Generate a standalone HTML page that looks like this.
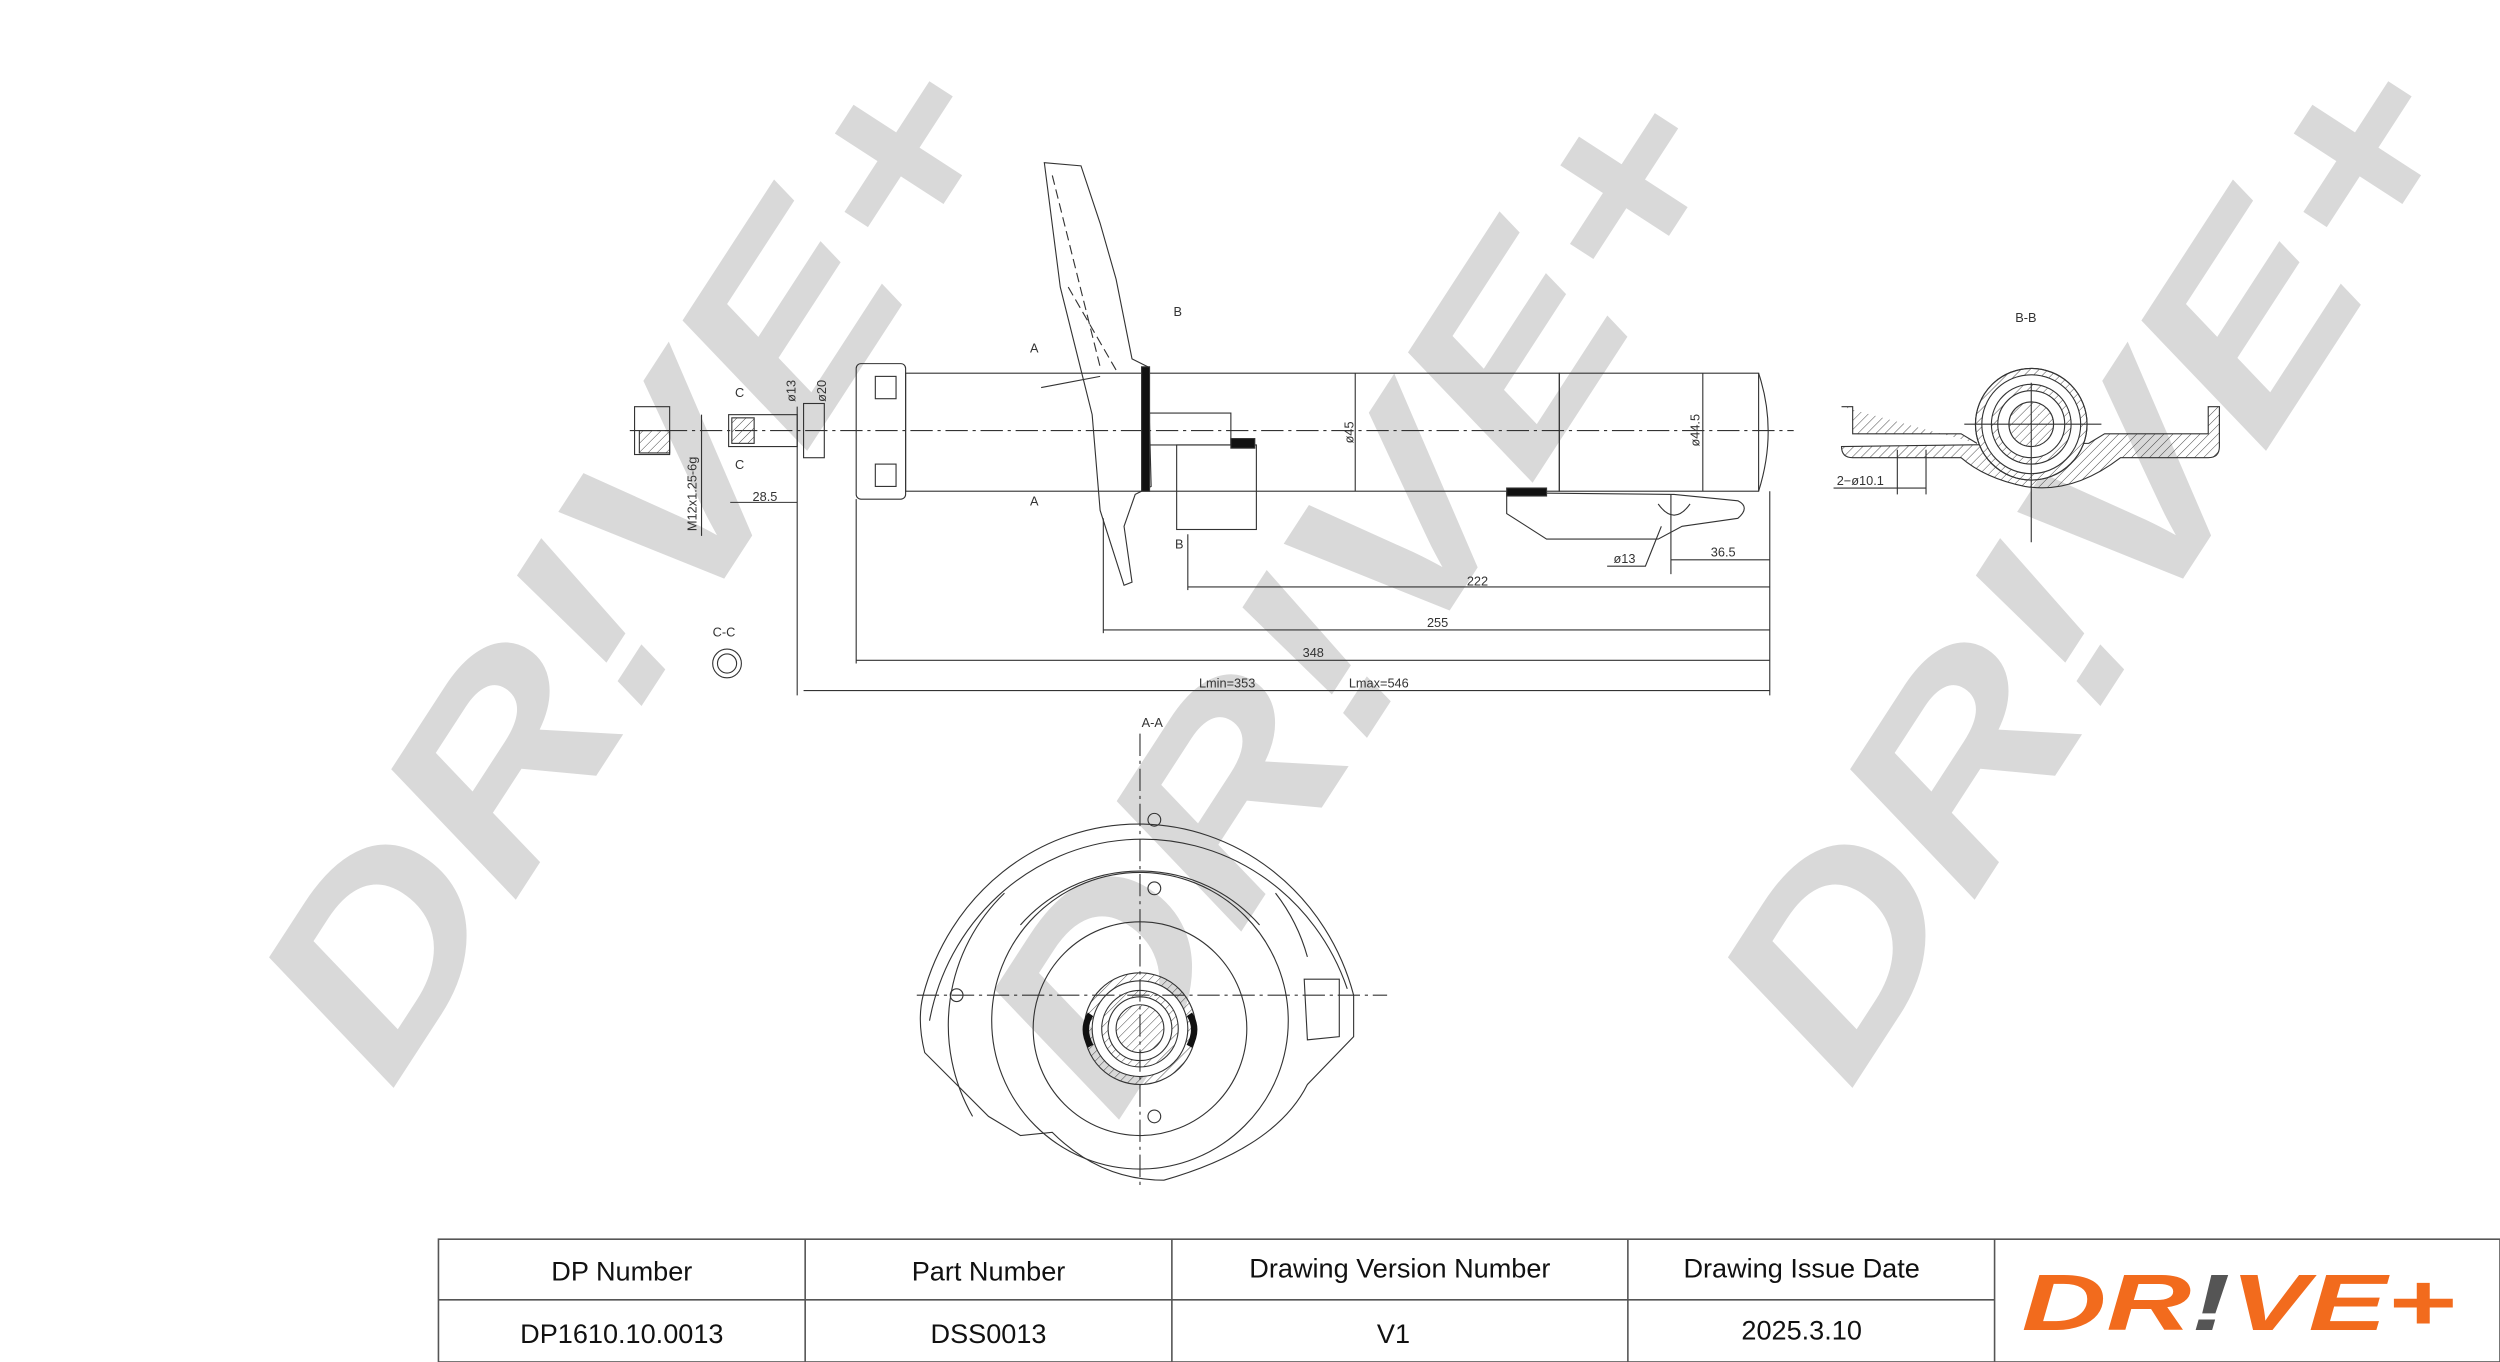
<!DOCTYPE html>
<html><head><meta charset="utf-8"><style>
html,body{margin:0;padding:0;background:#fff;}
svg{display:block}
</style></head><body>
<svg width="2500" height="1362" viewBox="0 0 1568 854" preserveAspectRatio="none" xmlns="http://www.w3.org/2000/svg" font-family="Liberation Sans, sans-serif">
<defs>
<pattern id="h" width="4" height="4" patternUnits="userSpaceOnUse" patternTransform="rotate(45)"><line x1="0" y1="0" x2="0" y2="4" stroke="#444" stroke-width="0.6"/></pattern>
</defs>
<rect width="1568" height="854" fill="#fff"/>
<g fill="#d9d9d9" font-weight="bold" font-style="italic" font-size="160">
<text transform="translate(245,685) rotate(-57)" textLength="720" lengthAdjust="spacingAndGlyphs">DR!VE+</text>
<text transform="translate(700,705) rotate(-57)" textLength="720" lengthAdjust="spacingAndGlyphs">DR!VE+</text>
<text transform="translate(1160,685) rotate(-57)" textLength="720" lengthAdjust="spacingAndGlyphs">DR!VE+</text>
</g>
<g fill="none" stroke="#333" stroke-width="0.7">
<line x1="395" y1="270" x2="1125" y2="270" stroke-dasharray="14,3,2,3"/>
<rect x="398" y="255" width="22" height="30"/>
<rect x="401" y="270" width="19" height="14" fill="url(#h)"/>
<line x1="440" y1="260" x2="440" y2="336"/>
<rect x="457" y="260" width="43" height="20"/>
<rect x="459" y="262" width="14" height="16" fill="url(#h)"/>
<line x1="500" y1="255" x2="500" y2="436"/>
<rect x="504" y="253" width="13" height="34"/>
<rect x="537" y="228" width="31" height="85" rx="3"/>
<rect x="549" y="236" width="13" height="14"/>
<rect x="549" y="291" width="13" height="14"/>
<rect x="568" y="234" width="410" height="74"/>
<rect x="978" y="234" width="125" height="74"/>
<path d="M1103,234 Q1115,270 1103,308"/>
<line x1="850" y1="234" x2="850" y2="308"/>
<line x1="1068" y1="234" x2="1068" y2="308"/>
<path d="M655,102 L678,104 L690,140 L700,175 L710,225 L720,230 L722,305 L712,310 L705,330 L710,365 L705,367 L690,320 L685,260 L665,180 Z"/>
<path d="M660,110 L690,230 M670,180 L700,232" stroke-dasharray="6,3"/>
<line x1="653" y1="243" x2="690" y2="236"/>
<rect x="716" y="230" width="5" height="78" fill="#111"/>
<rect x="721" y="259" width="51" height="20"/>
<rect x="738" y="279" width="50" height="53"/>
<rect x="772" y="275" width="15" height="6" fill="#111"/>
<path d="M945,309 L945,322 L970,338 L1040,338 L1055,330 L1090,325 Q1098,318 1090,314 L1050,310 Z"/>
<rect x="945" y="306" width="25" height="5" fill="#111"/>
<path d="M1040,316 Q1050,330 1060,316"/>
<line x1="1048" y1="310" x2="1048" y2="360"/>
<line x1="458" y1="315" x2="500" y2="315"/>
<line x1="745" y1="368" x2="1110" y2="368"/>
<line x1="692" y1="395" x2="1110" y2="395"/>
<line x1="537" y1="414" x2="1110" y2="414"/>
<line x1="504" y1="433" x2="1110" y2="433"/>
<line x1="1048" y1="351" x2="1110" y2="351"/>
<line x1="1110" y1="308" x2="1110" y2="436"/>
<line x1="537" y1="313" x2="537" y2="416"/>
<line x1="692" y1="325" x2="692" y2="397"/>
<line x1="745" y1="335" x2="745" y2="370"/>
<path d="M1008,355 L1032,355 L1042,330"/>
<circle cx="456" cy="416" r="9"/><circle cx="456" cy="416" r="6"/>
<path d="M1155,255 L1162,255 L1162,272 L1230,272 L1240,278 M1310,278 L1320,272 L1385,272 L1385,255 L1392,255 L1392,280 Q1392,287 1385,287 L1330,287 Q1300,310 1270,305 Q1245,300 1230,287 L1162,287 Q1155,287 1155,280 Z" fill="url(#h)"/>
<circle cx="1274" cy="266" r="35" fill="#fff"/>
<circle cx="1274" cy="266" r="35" fill="url(#h)"/>
<circle cx="1274" cy="266" r="31" fill="#fff"/>
<circle cx="1274" cy="266" r="25" fill="url(#h)"/>
<circle cx="1274" cy="266" r="21" fill="#fff"/>
<circle cx="1274" cy="266" r="14" fill="url(#h)"/>
<line x1="1274" y1="240" x2="1274" y2="340"/>
<line x1="1232" y1="266" x2="1318" y2="266"/>
<line x1="1190" y1="282" x2="1190" y2="310"/><line x1="1208" y1="282" x2="1208" y2="310"/>
<line x1="1150" y1="306" x2="1208" y2="306"/>
<path d="M579,624 A140,146 0 0 1 849,624 L849,650 L820,680 Q800,720 730,740 Q690,740 660,710 L640,712 L620,700 L580,660 Q575,640 579,624 Z"/>
<path d="M583,640 A136,140 0 0 1 845,620"/>
<path d="M610,700 A115,115 0 0 1 630,560 M800,560 A115,115 0 0 1 820,600"/>
<path d="M640,580 A100,100 0 0 1 790,580"/>
<circle cx="715" cy="640" r="93"/>
<circle cx="715" cy="645" r="67"/>
<circle cx="715" cy="645" r="35" fill="url(#h)"/>
<circle cx="715" cy="645" r="30" fill="#fff"/>
<circle cx="715" cy="645" r="24" fill="url(#h)"/>
<circle cx="715" cy="645" r="20" fill="#fff"/>
<circle cx="715" cy="645" r="15" fill="url(#h)"/>
<path d="M684,636 Q678,645 684,656" stroke="#111" stroke-width="4"/>
<path d="M746,636 Q752,645 746,656" stroke="#111" stroke-width="4"/>
<circle cx="724" cy="514" r="4"/><circle cx="724" cy="557" r="4"/><circle cx="724" cy="700" r="4"/><circle cx="600" cy="624" r="4"/>
<line x1="715" y1="460" x2="715" y2="745" stroke-dasharray="14,3,2,3"/>
<line x1="575" y1="624" x2="870" y2="624" stroke-dasharray="14,3,2,3"/>
<path d="M818,614 L840,614 L840,650 L820,652 Z"/>
</g>
<g fill="#333" font-size="8">
<text x="646" y="221">A</text><text x="646" y="317">A</text>
<text x="736" y="198">B</text><text x="737" y="344">B</text>
<text x="461" y="249">C</text><text x="461" y="294">C</text>
<text x="472" y="314">28.5</text>
<text x="920" y="367">222</text><text x="895" y="393">255</text>
<text x="817" y="412">348</text>
<text x="752" y="431">Lmin=353</text><text x="846" y="431">Lmax=546</text>
<text x="1073" y="349">36.5</text><text x="1012" y="353">ø13</text>
<text x="1152" y="304">2−ø10.1</text>
<text x="1264" y="202">B-B</text><text x="447" y="399">C-C</text>
<text x="716" y="456">A-A</text>
<text transform="translate(849,278) rotate(-90)">ø45</text>
<text transform="translate(1066,280) rotate(-90)">ø44.5</text>
<text transform="translate(499,252) rotate(-90)">ø13</text>
<text transform="translate(518,252) rotate(-90)">ø20</text>
<text transform="translate(437,333) rotate(-90)">M12x1.25-6g</text>
</g>
<g stroke="#555" stroke-width="1" fill="none">
<rect x="275" y="777" width="1293" height="77"/>
<line x1="275" y1="815" x2="1251" y2="815"/>
<line x1="505" y1="777" x2="505" y2="854"/>
<line x1="735" y1="777" x2="735" y2="854"/>
<line x1="1021" y1="777" x2="1021" y2="854"/>
<line x1="1251" y1="777" x2="1251" y2="854"/>
</g>
<g font-size="17" fill="#111" text-anchor="middle">
<text x="390" y="803">DP Number</text><text x="620" y="803">Part Number</text>
<text x="878" y="801">Drawing Version Number</text><text x="1130" y="801">Drawing Issue Date</text>
<text x="390" y="842">DP1610.10.0013</text><text x="620" y="842">DSS0013</text>
<text x="874" y="842">V1</text><text x="1130" y="840">2025.3.10</text>
</g>
<text x="1268" y="834" font-size="50" font-weight="bold" font-style="italic" fill="#f26b1d" textLength="272" lengthAdjust="spacingAndGlyphs">DR<tspan fill="#555">!</tspan>VE+</text>
</svg>
</body></html>
